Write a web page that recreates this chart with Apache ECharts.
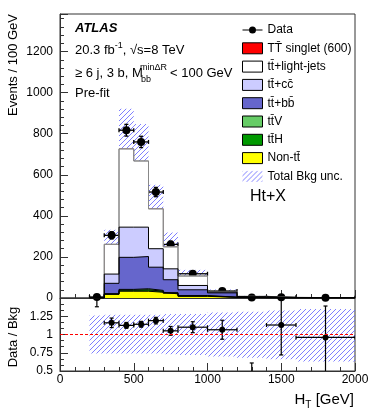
<!DOCTYPE html>
<html>
<head>
<meta charset="utf-8">
<script src="https://cdn.jsdelivr.net/npm/echarts@6/dist/echarts.min.js"></script>
<style>
  html, body { margin: 0; padding: 0; background: #fff; }
  #chart { width: 374px; height: 414px; }
</style>
</head>
<body>
<div id="chart"></div>
<script>
// bin edges in GeV (variable binning above 800)
const binEdges = [200, 300, 400, 500, 600, 700, 800, 1000, 1200, 1400, 1600, 2000];

// background components, events / 100 GeV
const nonTT   = [0.8, 18, 33, 33, 28, 20, 8, 3, 1.2, 0.5, 0.2];
const ttH     = [0.05, 1.5, 5, 7, 5, 3, 2, 0.6, 0.2, 0.1, 0.03];
const ttV     = [0.05, 1, 4, 5, 4, 3, 2, 0.6, 0.2, 0.1, 0.03];
const ttbb    = [0.4, 51, 156, 157, 113, 63, 28, 20.8, 3.5, 1.3, 0.5];
const ttcc    = [0.3, 45, 147, 143, 90, 53, 21, 4, 1.2, 0.4, 0.17];
const ttlight = [0.9, 145, 381, 322, 194, 107, 46, 3, 1.7, 0.6, 0.27];
const signalTT = [0, 0.1, 0.4, 0.6, 0.5, 0.3, 0.2, 0.1, 0.05, 0.02, 0.01];

// relative uncertainty of the total background
const uncUp   = [0.26, 0.27, 0.27, 0.27, 0.27, 0.28, 0.28, 0.30, 0.31, 0.33, 0.35];
const uncDown = [0.26, 0.26, 0.26, 0.26, 0.26, 0.27, 0.28, 0.30, 0.32, 0.34, 0.37];

// data, events / 100 GeV
const dataVals = [5, 305, 817, 760, 516, 261, 118, 34, 2.5, 3.5, 1.25];
const dataErr  = [2.2, 17.5, 28.6, 27.6, 22.7, 16.2, 7.7, 4.1, 1.1, 1.3, 0.56];

// data / bkg
const ratioVals  = [2.0, 1.16, 1.125, 1.14, 1.19, 1.05, 1.10, 1.065, 0.3, 1.13, 0.96];
const ratioErrUp = [0.9, 0.065, 0.04, 0.04, 0.045, 0.06, 0.075, 0.13, 0.31, 0.5, 0.43];
const ratioErrDn = [0.62, 0.065, 0.04, 0.04, 0.045, 0.06, 0.075, 0.13, 0.3, 0.41, 0.5];

const FONT = '"Liberation Sans", Arial, Helvetica, sans-serif';
const nBins = binEdges.length - 1;

const names = {
  sig: 'TT\u0304 singlet (600)',
  light: 'tt\u0304+light-jets',
  cc: 'tt\u0304+cc\u0304',
  bb: 'tt\u0304+bb\u0304',
  ttV: 'tt\u0304V',
  ttH: 'tt\u0304H',
  non: 'Non-tt\u0304',
  unc: 'Total Bkg unc.'
};

// stack, bottom to top
const stackDef = [
  { name: names.non, vals: nonTT, color: '#ffff00', line: '#000' },
  { name: names.ttH, vals: ttH, color: '#009900', line: '#000' },
  { name: names.ttV, vals: ttV, color: '#66cc66', line: '#000' },
  { name: names.bb, vals: ttbb, color: '#6666cc', line: '#000' },
  { name: names.cc, vals: ttcc, color: '#ccccff', line: '#000' },
  { name: names.light, vals: ttlight, color: '#ffffff', line: '#888' },
  { name: names.sig, vals: signalTT, color: '#ff0000', line: '#888' }
];

const cum = new Array(nBins).fill(0);
const stackSeries = stackDef.map(d => {
  for (let i = 0; i < nBins; i++) cum[i] += d.vals[i];
  const pts = [[binEdges[0], 0]];
  for (let i = 0; i < nBins; i++) pts.push([binEdges[i], cum[i]]);
  pts.push([binEdges[nBins], cum[nBins - 1]]);
  pts.push([binEdges[nBins], 0]);
  return {
    name: d.name,
    type: 'line',
    step: 'end',
    xAxisIndex: 0,
    yAxisIndex: 0,
    data: pts,
    symbol: 'none',
    itemStyle: { color: d.color },
    lineStyle: { color: d.line, width: 1 },
    areaStyle: { color: d.color, opacity: 1 }
  };
});
// tallest first so the smaller ones paint over
stackSeries.reverse();

// background total (without signal)
const bkgTotal = [];
for (let i = 0; i < nBins; i++) {
  bkgTotal.push(nonTT[i] + ttH[i] + ttV[i] + ttbb[i] + ttcc[i] + ttlight[i]);
}

function makeHatch() {
  const s = 5;
  const c = document.createElement('canvas');
  c.width = s; c.height = s;
  const g = c.getContext('2d');
  g.strokeStyle = 'rgba(95,95,255,0.8)';
  g.lineWidth = 1;
  g.beginPath();
  g.moveTo(0, s); g.lineTo(s, 0);
  g.moveTo(-1, 1); g.lineTo(1, -1);
  g.moveTo(s - 1, s + 1); g.lineTo(s + 1, s - 1);
  g.stroke();
  return c;
}
const hatch = { image: makeHatch(), repeat: 'repeat' };

const mainBand = [];
const ratioBand = [];
const mainErr = [];
const ratioErr = [];
const mainPts = [];
const ratioPts = [];
for (let i = 0; i < nBins; i++) {
  const lo = binEdges[i], hi = binEdges[i + 1], c = (lo + hi) / 2;
  mainBand.push([lo, hi, bkgTotal[i] * (1 - uncDown[i]), bkgTotal[i] * (1 + uncUp[i])]);
  ratioBand.push([lo, hi, 1 - uncDown[i], 1 + uncUp[i]]);
  mainErr.push([c, dataVals[i], lo, hi, dataVals[i] - dataErr[i], dataVals[i] + dataErr[i]]);
  ratioErr.push([c, ratioVals[i], lo, hi, ratioVals[i] - ratioErrDn[i], ratioVals[i] + ratioErrUp[i]]);
  mainPts.push([c, dataVals[i]]);
  ratioPts.push([c, ratioVals[i]]);
}

function renderBand(params, api) {
  const p0 = api.coord([api.value(0), api.value(3)]);
  const p1 = api.coord([api.value(1), api.value(2)]);
  return {
    type: 'rect',
    shape: { x: p0[0], y: p0[1], width: p1[0] - p0[0], height: p1[1] - p0[1] },
    style: { fill: hatch, stroke: null }
  };
}

function errRenderer(lw, cap) {
  return function (params, api) {
    const y = api.value(1);
    const l = api.coord([api.value(2), y]);
    const r = api.coord([api.value(3), y]);
    const b = api.coord([api.value(0), api.value(4)]);
    const t = api.coord([api.value(0), api.value(5)]);
    const segs = [
      [l[0], l[1], r[0], r[1]],
      [t[0], t[1], b[0], b[1]],
      [t[0] - cap, t[1], t[0] + cap, t[1]],
      [b[0] - cap, b[1], b[0] + cap, b[1]],
      [l[0], l[1] - cap, l[0], l[1] + cap],
      [r[0], r[1] - cap, r[0], r[1] + cap]
    ];
    return {
      type: 'group',
      children: segs.map(s => ({
        type: 'line',
        shape: { x1: s[0], y1: s[1], x2: s[2], y2: s[3] },
        style: { stroke: '#000', lineWidth: lw }
      }))
    };
  };
}

const axisCol = '#333';
function xAxisCfg(grid, showLabel) {
  return {
    gridIndex: grid, type: 'value', min: 0, max: 2000, interval: 500,
    axisLine: { show: true, lineStyle: { color: axisCol, width: 1 } },
    axisTick: { show: true, inside: true, length: 8, lineStyle: { color: axisCol } },
    minorTick: { show: true, splitNumber: 5, length: 4, lineStyle: { color: axisCol } },
    splitLine: { show: false },
    axisLabel: {
      show: showLabel, margin: 3, fontSize: 12, fontFamily: FONT, color: '#000',
      formatter: v => String(v)
    }
  };
}

const chart = echarts.init(document.getElementById('chart'));
chart.setOption({
  animation: false,
  backgroundColor: '#fff',
  grid: [
    { left: 60, top: 14, width: 295, height: 284, show: true, borderColor: axisCol, borderWidth: 1 },
    { left: 60, top: 298, width: 295, height: 73, show: true, borderColor: axisCol, borderWidth: 1 }
  ],
  xAxis: [xAxisCfg(0, false), xAxisCfg(1, true)],
  yAxis: [
    {
      gridIndex: 0, type: 'value', min: 0, max: 1383, interval: 200,
      axisLine: { show: true, lineStyle: { color: axisCol } },
      axisTick: { inside: true, length: 8, lineStyle: { color: axisCol } },
      minorTick: { show: true, splitNumber: 5, length: 4, lineStyle: { color: axisCol } },
      splitLine: { show: false },
      axisLabel: {
        margin: 7, fontSize: 12, fontFamily: FONT, color: '#000',
        formatter: v => (v % 200 === 0 ? String(v) : '')
      }
    },
    {
      gridIndex: 1, type: 'value', min: 0.5, max: 1.5, interval: 0.25,
      axisLine: { show: true, lineStyle: { color: axisCol } },
      axisTick: { inside: true, length: 8, lineStyle: { color: axisCol } },
      minorTick: { show: true, splitNumber: 3, length: 4, lineStyle: { color: axisCol } },
      splitLine: { show: false },
      axisLabel: {
        margin: 7, fontSize: 12, fontFamily: FONT, color: '#000',
        formatter: v => (v >= 1.5 ? '' : String(v))
      }
    }
  ],
  legend: {
    orient: 'vertical', left: 242, top: 24,
    itemWidth: 20, itemHeight: 11, itemGap: 6.3, padding: 0,
    selectedMode: false,
    textStyle: { fontSize: 12, fontFamily: FONT, color: '#000' },
    data: [
      { name: 'Data', icon: 'path://M0,5H20V6H0Z M13.5,5.5A3.5,3.5,0,1,1,6.5,5.5A3.5,3.5,0,1,1,13.5,5.5Z', itemStyle: { color: '#000', opacity: 1, borderWidth: 0 } },
      { name: names.sig, icon: 'rect', itemStyle: { color: '#ff0000', borderColor: '#000', borderWidth: 1 } },
      { name: names.light, icon: 'rect', itemStyle: { color: '#ffffff', borderColor: '#000', borderWidth: 1 } },
      { name: names.cc, icon: 'rect', itemStyle: { color: '#ccccff', borderColor: '#000', borderWidth: 1 } },
      { name: names.bb, icon: 'rect', itemStyle: { color: '#6666cc', borderColor: '#000', borderWidth: 1 } },
      { name: names.ttV, icon: 'rect', itemStyle: { color: '#66cc66', borderColor: '#000', borderWidth: 1 } },
      { name: names.ttH, icon: 'rect', itemStyle: { color: '#009900', borderColor: '#000', borderWidth: 1 } },
      { name: names.non, icon: 'rect', itemStyle: { color: '#ffff00', borderColor: '#000', borderWidth: 1 } },
      { name: names.unc, icon: 'rect', itemStyle: { color: hatch, borderWidth: 0 } }
    ]
  },
  series: [
    ...stackSeries,
    {
      name: names.unc, type: 'custom', xAxisIndex: 0, yAxisIndex: 0,
      renderItem: renderBand, data: mainBand, clip: true, itemStyle: { color: hatch }
    },
    {
      type: 'custom', xAxisIndex: 0, yAxisIndex: 0,
      renderItem: errRenderer(1.3, 2), data: mainErr, clip: true
    },
    {
      name: 'Data', type: 'scatter', xAxisIndex: 0, yAxisIndex: 0,
      data: mainPts, symbol: 'circle', symbolSize: 8, itemStyle: { color: '#000', opacity: 1 }, clip: true
    },
    {
      type: 'custom', xAxisIndex: 1, yAxisIndex: 1,
      renderItem: renderBand, data: ratioBand, clip: true
    },
    {
      type: 'line', xAxisIndex: 1, yAxisIndex: 1, symbol: 'none',
      data: [[0, 1], [2000, 1]],
      lineStyle: { color: '#ff0000', width: 1, type: [3, 2] }
    },
    {
      type: 'custom', xAxisIndex: 1, yAxisIndex: 1,
      renderItem: errRenderer(1.2, 2), data: ratioErr, clip: true
    },
    {
      type: 'scatter', xAxisIndex: 1, yAxisIndex: 1,
      data: ratioPts, symbol: 'circle', symbolSize: 6, itemStyle: { color: '#000', opacity: 1 }, clip: true
    }
  ],
  graphic: [
    { type: 'text', x: 75, y: 28.5, style: { text: 'ATLAS', fontSize: 13, fontWeight: 'bold', fontStyle: 'italic', fontFamily: FONT, fill: '#000', verticalAlign: 'middle' } },
    {
      type: 'text', x: 75, y: 50, style: {
        text: '{n|20.3 fb}{s|-1}{n|, \u221As=8 TeV}', verticalAlign: 'middle',
        rich: {
          n: { fontSize: 13, fontFamily: FONT, fill: '#000', lineHeight: 18 },
          s: { fontSize: 9, fontFamily: FONT, fill: '#000', lineHeight: 9, verticalAlign: 'top' }
        }
      }
    },
    { type: 'text', x: 75, y: 73, style: { text: '\u2265 6 j, 3 b, M', fontSize: 13, fontFamily: FONT, fill: '#000', verticalAlign: 'middle' } },
    { type: 'text', x: 140, y: 67.5, style: { text: 'min\u0394R', fontSize: 9, fontFamily: FONT, fill: '#000', verticalAlign: 'middle' } },
    { type: 'text', x: 141, y: 79.5, style: { text: 'bb', fontSize: 9, fontFamily: FONT, fill: '#000', verticalAlign: 'middle' } },
    { type: 'text', x: 170, y: 73, style: { text: '< 100 GeV', fontSize: 13, fontFamily: FONT, fill: '#000', verticalAlign: 'middle' } },
    { type: 'text', x: 75, y: 93, style: { text: 'Pre-fit', fontSize: 13, fontFamily: FONT, fill: '#000', verticalAlign: 'middle' } },
    { type: 'text', x: 250, y: 197, style: { text: 'Ht+X', fontSize: 16, fontFamily: FONT, fill: '#000', verticalAlign: 'middle' } },
    { type: 'text', x: 13, y: 14, rotation: Math.PI / 2, style: { text: 'Events / 100 GeV', fontSize: 13, fontFamily: FONT, fill: '#000', align: 'right', verticalAlign: 'middle' } },
    { type: 'text', x: 13, y: 337, rotation: Math.PI / 2, style: { text: 'Data / Bkg', fontSize: 13, fontFamily: FONT, fill: '#000', align: 'center', verticalAlign: 'middle' } },
    {
      type: 'text', x: 354, y: 400, style: {
        text: '{n|H}{s|T}{n| [GeV]}', align: 'right', verticalAlign: 'middle',
        rich: {
          n: { fontSize: 15, fontFamily: FONT, fill: '#000', lineHeight: 20 },
          s: { fontSize: 10, fontFamily: FONT, fill: '#000', lineHeight: 10, verticalAlign: 'bottom' }
        }
      }
    }
  ]
});
</script>
</body>
</html>
